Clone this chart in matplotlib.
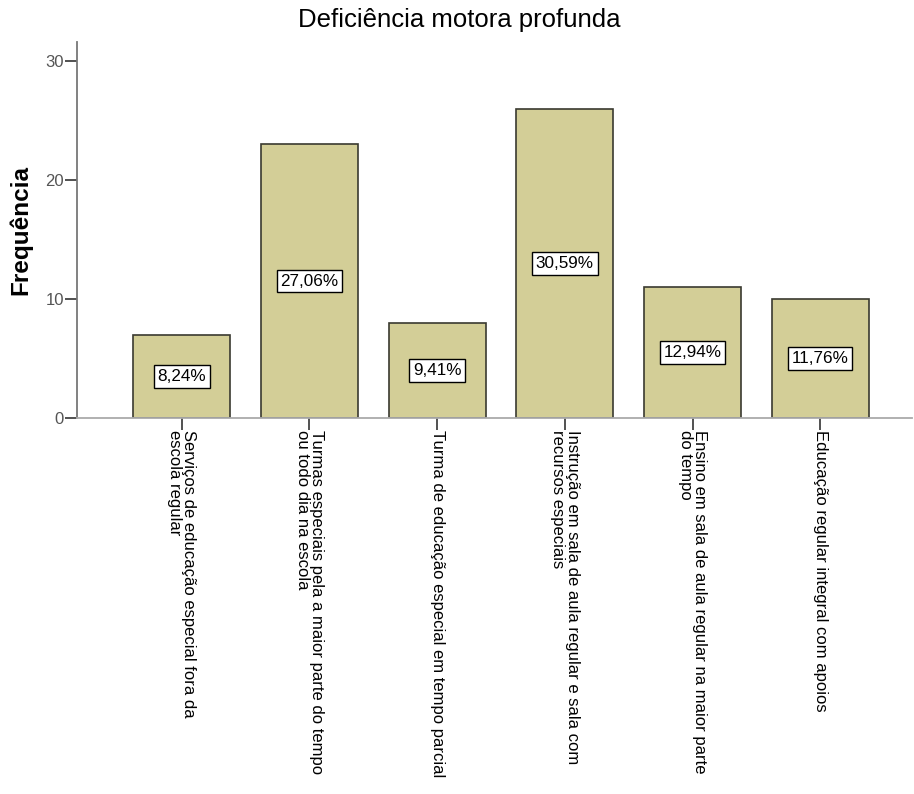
import matplotlib.pyplot as plt

plt.rcParams['font.family'] = ['Liberation Sans', 'DejaVu Sans']

categorias = [
    "Serviços de educação especial fora da\nescola regular",
    "Turmas especiais pela a maior parte do tempo\nou todo dia na escola",
    "Turma de educação especial em tempo parcial",
    "Instrução em sala de aula regular e sala com\nrecursos especiais",
    "Ensino em sala de aula regular na maior parte\ndo tempo",
    "Educação regular integral com apoios",
]
frequencias = [7, 23, 8, 26, 11, 10]
percentuais = ["8,24%", "27,06%", "9,41%", "30,59%", "12,94%", "11,76%"]
yticks = [0, 10, 20, 30]

fig = plt.figure(figsize=(9.14, 7.94), dpi=100)
ax = fig.add_axes([0.0842, 0.4736, 0.9138, 0.4734])

x = range(len(categorias))
ax.bar(x, frequencias, width=0.76, color='#D3CE97', edgecolor='#3a3a30', linewidth=1.2)

# rotulos de percentual no meio da barra
for xi, f, p in zip(x, frequencias, percentuais):
    ax.text(xi, f / 2, p, ha='center', va='center', fontsize=12.3,
            bbox=dict(boxstyle='square,pad=0.22', facecolor='white', edgecolor='black', linewidth=1))

ax.set_xlim(-0.82, 5.72)
ax.set_ylim(0, 31.6)
ax.set_yticks(yticks)
ax.set_xticks(list(x))
ax.set_xticklabels(categorias, rotation=270, ha='center', va='top', fontsize=12,
                   linespacing=0.95, multialignment='left')
ax.tick_params(axis='y', length=8.5, width=1.2, color='#333333', labelsize=12,
               labelcolor='#555555', pad=1)
ax.tick_params(axis='x', length=8.5, width=1.2, color='#333333', pad=0)

for s in ['top', 'right']:
    ax.spines[s].set_visible(False)
ax.spines['left'].set_color('#777777')
ax.spines['bottom'].set_color('#aaaaaa')
ax.spines['left'].set_linewidth(1.3)
ax.spines['bottom'].set_linewidth(1.3)

fig.text(0.023, 0.71, 'Frequência', rotation=90, ha='center', va='center',
         fontsize=17.5, fontweight='bold')
fig.text(0.503, 0.975, 'Deficiência motora profunda', ha='center', va='center',
         fontsize=18.5, fontweight='medium')

fig.savefig('out.png', dpi=100)
